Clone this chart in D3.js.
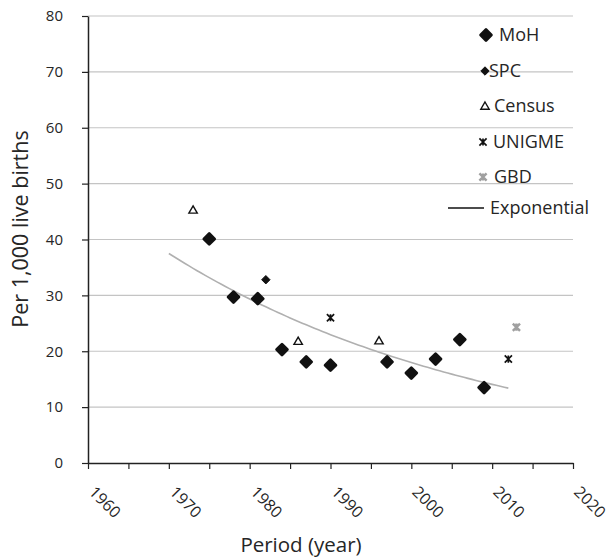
<!DOCTYPE html>
<html>
<head>
<meta charset="utf-8">
<script src="https://cdn.jsdelivr.net/npm/d3@7"></script>
<style>
  html, body { margin: 0; padding: 0; background: #fff; }
  svg text { font-family: "Open Sans", "Noto Sans", sans-serif; fill: #262626; }
</style>
</head>
<body>
<svg id="chart" width="611" height="559"></svg>
<script>
// Under-five / infant mortality estimates by source (per 1,000 live births)
const mohYears    = [1975, 1978, 1981, 1984, 1987, 1990, 1997, 2000, 2003, 2006, 2009];
const mohRates    = [40.1, 29.7, 29.4, 20.3, 18.1, 17.5, 18.1, 16.1, 18.6, 22.1, 13.5];
const spcYears    = [1982];
const spcRates    = [32.8];
const censusYears = [1973, 1986, 1996];
const censusRates = [45.3, 21.8, 21.9];
const unigmeYears = [1990, 2012];
const unigmeRates = [26.0, 18.6];
const gbdYears    = [2013];
const gbdRates    = [24.3];

// Exponential trend: rate = a * exp(b * (year - base)), drawn over trendSpan
const trendCoef = [37.5, -0.0245];
const trendBase = 1970;
const trendSpan = [1970, 2012];

const xTicks = [1960, 1970, 1980, 1990, 2000, 2010, 2020];
const xMinorTicks = [1960, 1965, 1970, 1975, 1980, 1985, 1990, 1995, 2000, 2005, 2010, 2015, 2020];
const yTicks = [0, 10, 20, 30, 40, 50, 60, 70, 80];

const legendLabels = ["MoH", "SPC", "Census", "UNIGME", "GBD", "Exponential"];

const svg = d3.select("#chart");
const plotLeft = 88, plotRight = 573, plotTop = 16, plotBottom = 463;

const x = d3.scaleLinear().domain([1960, 2020]).range([plotLeft, plotRight]);
const y = d3.scaleLinear().domain([0, 80]).range([plotBottom, plotTop]);

// horizontal gridlines
svg.append("g").selectAll("line")
  .data(yTicks.filter(d => d > 0))
  .join("line")
  .attr("x1", plotLeft).attr("x2", plotRight)
  .attr("y1", d => y(d)).attr("y2", d => y(d))
  .attr("stroke", "#c4c4c4").attr("stroke-width", 1.2);

// y axis
const yAxis = svg.append("g")
  .attr("transform", `translate(${plotLeft},0)`)
  .call(d3.axisLeft(y).tickValues(yTicks).tickSize(6).tickPadding(19).tickSizeOuter(0));
yAxis.select(".domain").attr("stroke", "#222").attr("stroke-width", 1.5);
yAxis.selectAll(".tick line").attr("stroke", "#222").attr("stroke-width", 1.2);
yAxis.selectAll(".tick text")
  .style("font-size", "15px")
  .style("font-family", "'Open Sans', sans-serif")
  .attr("fill", "#262626");

// x axis
const xAxis = svg.append("g")
  .attr("transform", `translate(0,${plotBottom})`)
  .call(d3.axisBottom(x).tickValues(xMinorTicks).tickSize(6).tickSizeOuter(0).tickFormat(""));
xAxis.select(".domain").attr("stroke", "#222").attr("stroke-width", 1.5);
xAxis.selectAll(".tick line").attr("stroke", "#222").attr("stroke-width", 1.2);

svg.append("g").selectAll("text")
  .data(xTicks)
  .join("text")
  .attr("transform", d => `translate(${x(d)},${plotBottom + 30}) rotate(45)`)
  .attr("text-anchor", "start")
  .style("font-size", "16px")
  .text(d => d);

// axis titles
svg.append("text")
  .attr("x", 301).attr("y", 552)
  .attr("text-anchor", "middle")
  .style("font-size", "20.5px")
  .text("Period (year)");

svg.append("text")
  .attr("transform", `translate(28,229) rotate(-90)`)
  .attr("text-anchor", "middle")
  .style("font-size", "21.5px")
  .text("Per 1,000 live births");

// trend line
const trendYears = d3.range(trendSpan[0], trendSpan[1] + 0.01, 0.5);
const trendFn = t => trendCoef[0] * Math.exp(trendCoef[1] * (t - trendBase));
const line = d3.line().x(d => x(d)).y(d => y(trendFn(d)));
svg.append("path")
  .attr("d", line(trendYears))
  .attr("fill", "none")
  .attr("stroke", "#b0b0b0")
  .attr("stroke-width", 1.6);

// marker painters
const diamond = r => `M0,${-r}L${r},0L0,${r}L${-r},0Z`;
const triangle = r => `M0,${-r}L${r * 1.05},${r * 0.8}L${-r * 1.05},${r * 0.8}Z`;
const star = r => `M${-r},${-r}L${r},${r}M${-r},${r}L${r},${-r}M0,${-r}L0,${r}`;

function drawMarkers(g, kind) {
  if (kind === "moh") {
    g.append("path").attr("d", diamond(5.4))
      .attr("fill", "#111").attr("stroke", "#111")
      .attr("stroke-width", 2.8).attr("stroke-linejoin", "round");
  } else if (kind === "spc") {
    g.append("path").attr("d", diamond(4.2))
      .attr("fill", "#111").attr("stroke", "#111")
      .attr("stroke-width", 1).attr("stroke-linejoin", "round");
  } else if (kind === "census") {
    g.append("path").attr("d", triangle(4))
      .attr("fill", "none").attr("stroke", "#111").attr("stroke-width", 1.4);
  } else if (kind === "unigme") {
    g.append("path").attr("d", star(3.6))
      .attr("fill", "none").attr("stroke", "#111").attr("stroke-width", 1.7);
  } else if (kind === "gbd") {
    g.append("path").attr("d", star(3.6))
      .attr("fill", "none").attr("stroke", "#a0a0a0").attr("stroke-width", 2.4);
  }
}

const series = [
  { kind: "moh", years: mohYears, rates: mohRates },
  { kind: "spc", years: spcYears, rates: spcRates },
  { kind: "census", years: censusYears, rates: censusRates },
  { kind: "unigme", years: unigmeYears, rates: unigmeRates },
  { kind: "gbd", years: gbdYears, rates: gbdRates }
];

series.forEach(s => {
  const pts = s.years.map((yr, i) => [yr, s.rates[i]]);
  svg.append("g").selectAll("g")
    .data(pts)
    .join("g")
    .attr("transform", d => `translate(${x(d[0])},${y(d[1])})`)
    .each(function () { drawMarkers(d3.select(this), s.kind); });
});

// legend
const legendRows = [
  { kind: "moh",    my: 35,  mx: 486, tx: 499 },
  { kind: "spc",    my: 71,  mx: 485, tx: 489 },
  { kind: "census", my: 106, mx: 485, tx: 494 },
  { kind: "unigme", my: 142, mx: 483, tx: 493 },
  { kind: "gbd",    my: 177, mx: 483, tx: 494 },
  { kind: "trend",  my: 208, mx: 466, tx: 490 }
];
const legend = svg.append("g");
legendRows.forEach((r, i) => {
  const g = legend.append("g").attr("transform", `translate(${r.mx},${r.my})`);
  if (r.kind === "trend") {
    g.append("line").attr("x1", -18).attr("x2", 18).attr("y1", 0).attr("y2", 0)
      .attr("stroke", "#111").attr("stroke-width", 1.3);
  } else {
    drawMarkers(g, r.kind);
  }
  legend.append("text")
    .attr("x", r.tx).attr("y", r.my)
    .attr("dy", "0.35em")
    .style("font-size", "18px")
    .text(legendLabels[i]);
});
</script>
</body>
</html>
